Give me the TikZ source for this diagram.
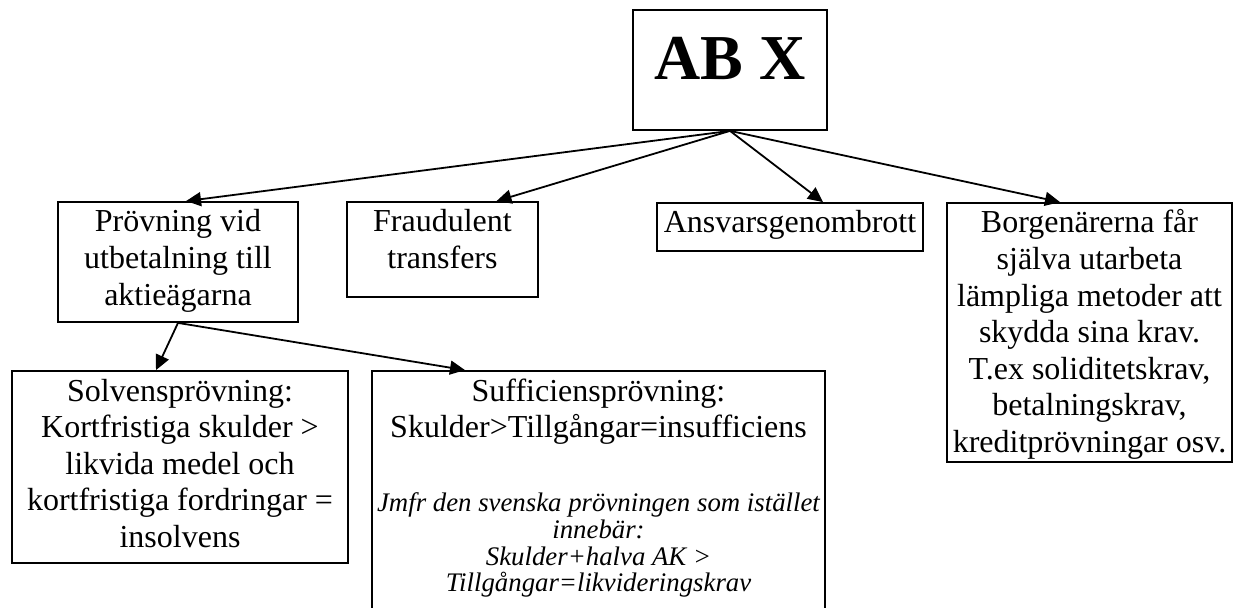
\documentclass[tikz,border=0pt]{standalone}
\usepackage{fontspec}
\setmainfont{Liberation Serif}
\usetikzlibrary{arrows.meta}

\newcommand{\boxtxt}[3]{\parbox[c][#2][t]{#1}{\centering\rule{0pt}{15pt}#3}}

\begin{document}
\begin{tikzpicture}[x=.5pt,y=-.5pt,font=\fontsize{16}{18.3}\selectfont,
  box/.style={draw,line width=.9pt,inner sep=0pt},
  link/.style={-{Triangle[length=7.5pt,width=7pt]},line width=.9pt}]
 \useasboundingbox (0,0) rectangle (1235,608);
 \node[box] (abx) at (730,70)
   {\parbox[c][60pt][t]{97pt}{\centering\fontsize{32}{36}\selectfont\bfseries\rule{0pt}{35pt}AB X}};
 \node[box] (provning) at (178,262) {\boxtxt{120pt}{60pt}{Prövning vid\\ utbetalning till\\ aktieägarna}};
 \node[box] (fraud) at (442.5,249.5) {\boxtxt{95.5pt}{47.5pt}{Fraudulent\\ transfers}};
 \node[box] (ansvar) at (790,227) {\boxtxt{133pt}{24pt}{Ansvarsgenombrott}};
 \node[box] (borgen) at (1089.5,332.5) {\boxtxt{142.5pt}{129.5pt}{Borgenärerna får\\ själva utarbeta\\ lämpliga metoder att\\ skydda sina krav.\\ T.ex soliditetskrav,\\ betalningskrav,\\ kreditprövningar osv.}};
 \node[box] (solvens) at (180,467) {\boxtxt{168pt}{96pt}{Solvensprövning:\\ Kortfristiga skulder >\\ likvida medel och\\ kortfristiga fordringar =\\ insolvens}};
 \node[box] (suffic) at (598.5,510.5) {\boxtxt{226.5pt}{139.5pt}{Sufficiensprövning:\\ Skulder>Tillgångar=insufficiens\par\vspace{23.5pt}
   {\fontsize{13.4}{13.4}\selectfont\itshape Jmfr den svenska prövningen som istället\\ innebär:\\ Skulder+halva AK >\\ Tillgångar=likvideringskrav\par}}};
 \draw[link] (abx.south) -- ([xshift=4pt]provning.north);
 \draw[link] (abx.south) -- ([xshift=27pt]fraud.north);
 \draw[link] (abx.south) -- ([xshift=16.5pt]ansvar.north);
 \draw[link] (abx.south) -- ([xshift=-14.75pt]borgen.north);
 \draw[link] (provning.south) -- ([xshift=-12pt]solvens.north);
 \draw[link] (provning.south) -- ([xshift=-66.75pt]suffic.north);
\end{tikzpicture}
\end{document}
